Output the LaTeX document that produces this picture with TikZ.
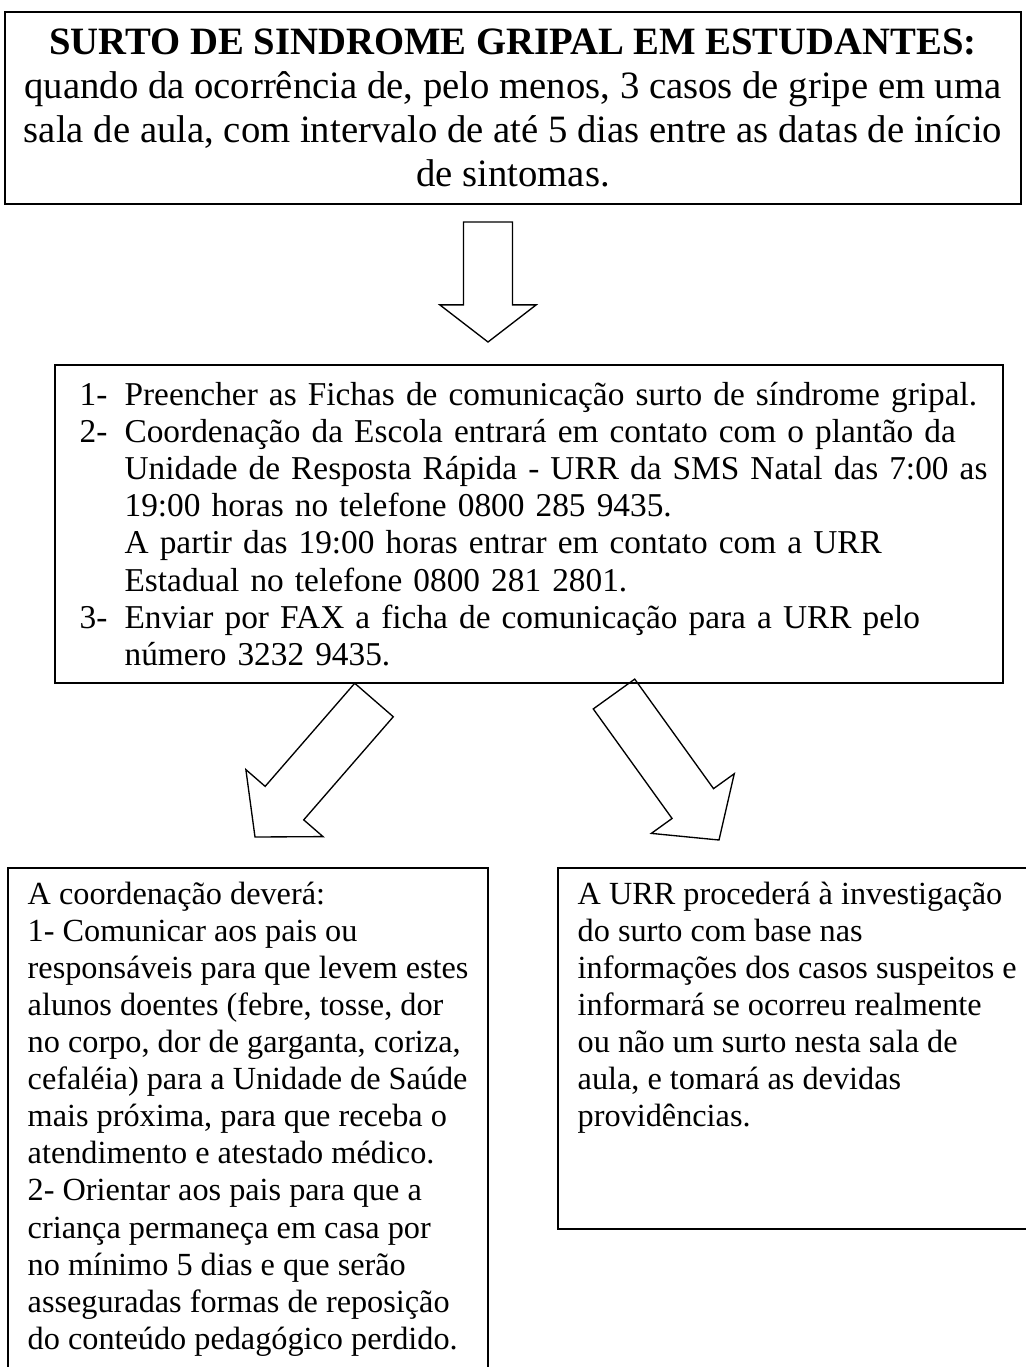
\documentclass[tikz,border=0pt]{standalone}
\usepackage{fontspec}
\setmainfont{Liberation Serif}
\usetikzlibrary{calc,fit}
\tikzset{
  box/.style={draw, line width=0.6pt, inner sep=0pt},
  txt/.style={inner sep=0pt, align=left, font=\fontsize{12}{13.8}\selectfont},
  fat/.style={draw, line width=0.5pt, line join=miter}
}
% hollow block arrow: tail, tip, half shaft, half head, head length
\newcommand{\fatarrow}[5]{%
  \coordinate (#1h) at ($(#2)!#5!(#1)$);
  \draw[fat] ($(#1)!#3!90:(#2)$) -- ($(#1h)!#3!90:(#2)$) -- ($(#1h)!#4!90:(#2)$)
    -- (#2) -- ($(#1h)!#4!-90:(#2)$) -- ($(#1h)!#3!-90:(#2)$) -- ($(#1)!#3!-90:(#2)$) -- cycle;}
\newcommand{\itm}[1]{\makebox[16.7pt][l]{#1}}
\begin{document}
\begin{tikzpicture}[x=0.372pt, y=-0.372pt]
    \useasboundingbox (0,0) rectangle (1026,1367);
    % boxes
    \node[box, fit={(5,12) (1021,204)}] (surto) {};
    \node[box, fit={(55,365) (1003,683)}] (passos) {};
    \node[box, fit={(8,868) (488,1385)}] (escola) {};
    \node[box, fit={(558,868) (1040,1229)}] (urr) {};
    % texts
    \node[txt, align=center, font=\fontsize{14.4}{16.3}\selectfont] (surto-t) at (surto.center)
      {\textbf{SURTO DE SINDROME GRIPAL EM ESTUDANTES:}\\
       quando da ocorrência de, pelo menos, 3 casos de gripe em uma\\
       sala de aula, com intervalo de até 5 dias entre as datas de início\\
       de sintomas.};
    \node[txt, text width=350pt, anchor=west, font=\fontsize{12.4}{13.8}\selectfont] (passos-t) at ($(passos.west)+(25,0)$)
      {\itm{1-}Preencher as Fichas de comunicação surto de síndrome gripal.\\
       \itm{2-}Coordenação da Escola entrará em contato com o plantão da\\
       \itm{}Unidade de Resposta Rápida - URR da SMS Natal das 7:00 as\\
       \itm{}19:00 horas no telefone 0800 285 9435.\\
       \itm{}A partir das 19:00 horas entrar em contato com a URR\\
       \itm{}Estadual no telefone 0800 281 2801.\\
       \itm{3-}Enviar por FAX a ficha de comunicação para a URR pelo\\
       \itm{}número 3232 9435.};
    \node[txt, anchor=north west] (escola-t) at ($(escola.north west)+(20,14)$)
      {A coordenação deverá:\\
       1- Comunicar aos pais ou\\
       responsáveis para que levem estes\\
       alunos doentes (febre, tosse, dor\\
       no corpo, dor de garganta, coriza,\\
       cefaléia) para a Unidade de Saúde\\
       mais próxima, para que receba o\\
       atendimento e atestado médico.\\
       2- Orientar aos pais para que a\\
       criança permaneça em casa por\\
       no mínimo 5 dias e que serão\\
       asseguradas formas de reposição\\
       do conteúdo pedagógico perdido.};
    \node[txt, anchor=north west] (urr-t) at ($(urr.north west)+(20,14)$)
      {A URR procederá à investigação\\
       do surto com base nas\\
       informações dos casos suspeitos e\\
       informará se ocorreu realmente\\
       ou não um surto nesta sala de\\
       aula, e tomará as devidas\\
       providências.};
    % arrows
    \coordinate (s1) at (488,222);
    \coordinate (e1) at (488,342);
    \coordinate (s2) at (374,700);
    \coordinate (e2) at (255,837);
    \coordinate (s3) at (614,694);
    \coordinate (e3) at (719,840);
    \fatarrow{s1}{e1}{9.1pt}{17.9pt}{13.8pt}
    \fatarrow{s2}{e2}{9.5pt}{19pt}{16.7pt}
    \fatarrow{s3}{e3}{9.5pt}{19pt}{16.7pt}
\end{tikzpicture}
\end{document}
